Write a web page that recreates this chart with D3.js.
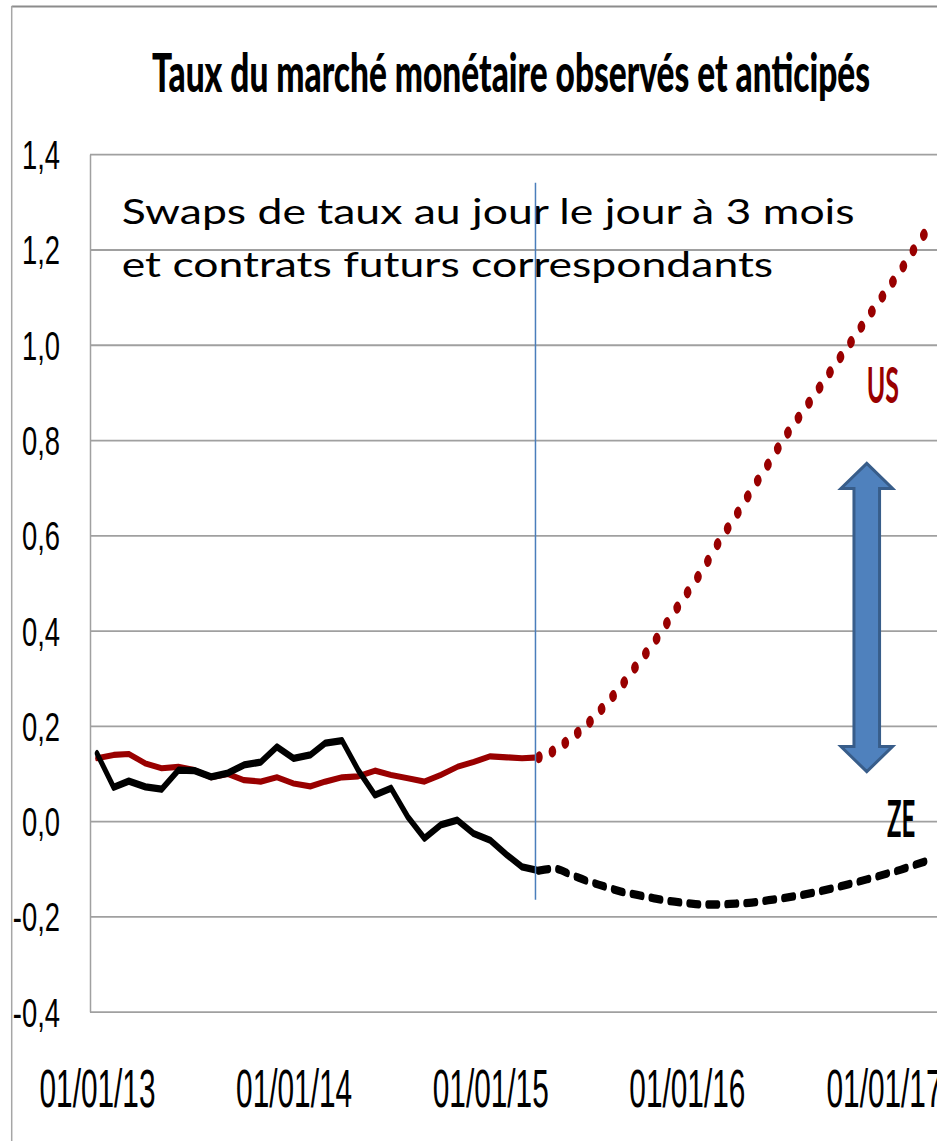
<!DOCTYPE html>
<html><head><meta charset="utf-8">
<script src="https://cdn.jsdelivr.net/npm/d3@7"></script>
<style>
html,body{margin:0;padding:0;background:#fff;}
svg{display:block;font-family:Lato,"Open Sans",sans-serif;}
</style></head>
<body><svg id="chart" width="937" height="1141"></svg>
<script>
// ---------- data ----------
const title = "Taux du marché monétaire observés et anticipés";
const noteLines = ["Swaps de taux au jour le jour à 3 mois", "et contrats futurs correspondants"];
const yTicks = [-0.4, -0.2, 0.0, 0.2, 0.4, 0.6, 0.8, 1.0, 1.2, 1.4];
const xTicks = ["2013-01-01", "2014-01-01", "2015-01-01", "2016-01-01", "2017-01-01"];
const obsStart = "2013-01-01";            // monthly observations Jan 2013 .. Apr 2015
const usObserved = [0.132, 0.139, 0.141, 0.121, 0.111, 0.114, 0.107, 0.092, 0.099, 0.086, 0.083, 0.092,
                    0.079, 0.073, 0.083, 0.092, 0.094, 0.106, 0.097, 0.090, 0.083, 0.097, 0.114, 0.124,
                    0.136, 0.134, 0.132, 0.134];
const zeObserved = [0.142, 0.071, 0.084, 0.072, 0.067, 0.107, 0.106, 0.093, 0.101, 0.118, 0.124, 0.156,
                    0.132, 0.139, 0.164, 0.169, 0.107, 0.055, 0.069, 0.009, -0.036, -0.008, 0.002, -0.026,
                    -0.040, -0.071, -0.096, -0.104];
const fcStart = "2015-04-01";             // monthly expectations Apr 2015 .. Apr 2017
const usForecast = [0.134, 0.149, 0.175, 0.204, 0.242, 0.283, 0.329, 0.375, 0.426, 0.478, 0.531, 0.587,
                    0.641, 0.696, 0.751, 0.806, 0.856, 0.906, 0.956, 1.006, 1.056, 1.106, 1.156, 1.206, 1.256];
const zeForecast = [-0.104, -0.100, -0.113, -0.126, -0.137, -0.148, -0.155, -0.162, -0.168, -0.172, -0.175, -0.175,
                    -0.173, -0.171, -0.166, -0.161, -0.155, -0.148, -0.140, -0.131, -0.122, -0.112, -0.102, -0.091, -0.080];
const cutoffDate = "2015-03-26";
const cutoffSpan = [-0.165, 1.34];
const arrowDate = "2016-11-30";
const arrowSpan = [0.104, 0.751];
const seriesLabels = [
  {name: "US", date: "2016-12-30", value: 0.878, color: "#990000"},
  {name: "ZE", date: "2017-02-02", value: -0.033, color: "#000000"}
];

(function() {
// ---------- layout ----------
const W = 937, H = 1141;
const plotLeft = 90, plotRight = 937, plotTop = 154.2, plotBottom = 1011.7;
const K = 1.66; // vertical stretch of the original picture
const svg = d3.select("#chart");
const parse = d3.utcParse("%Y-%m-%d");

const x = d3.scaleUtc().domain([parse(xTicks[0]), parse(xTicks[xTicks.length - 1])]).range([97, 884]);
const y = d3.scaleLinear().domain([-0.4, 1.4]).range([plotBottom, plotTop]);

const monthly = (start, vals) => vals.map((v, i) => ({d: d3.utcMonth.offset(parse(start), i), v}));

function fit(sel, o) {
  sel.attr("x", 0).attr("y", 0).attr("font-size", o.cap / 0.7165).attr("text-anchor", o.anchor || "start");
  const sx = o.sx || (o.w / sel.node().getComputedTextLength());
  sel.attr("transform", `translate(${o.x},${o.y}) scale(${sx},1)`);
  return sx;
}

// frame
svg.append("line").attr("x1", 11.7).attr("x2", W).attr("y1", 6.5).attr("y2", 6.5)
  .attr("stroke", "#8c8c8c").attr("stroke-width", 2);
svg.append("line").attr("x1", 11.7).attr("x2", 11.7).attr("y1", 6).attr("y2", H)
  .attr("stroke", "#a6a6a6").attr("stroke-width", 1.5);

// title
fit(svg.append("text").text(title).attr("font-weight", 900).attr("fill", "#000"),
  {cap: 38, w: 718, x: 511, y: 91.7, anchor: "middle"});

// y axis with gridlines
const fmt = d3.formatLocale({decimal: ",", thousands: " ", grouping: [3], currency: ["", "€"], minus: "-"}).format(".1f");
const yAxis = svg.append("g").attr("transform", `translate(${plotLeft},0)`)
  .call(d3.axisLeft(y).tickValues(yTicks).tickFormat(fmt).tickSize(-(plotRight - plotLeft)).tickSizeOuter(0));
yAxis.select(".domain").attr("stroke", "#a0a0a0").attr("stroke-width", 1.5);
yAxis.selectAll(".tick line").attr("stroke", "#a0a0a0").attr("stroke-width", 1.8);
const tmp = svg.append("text").text("0,4").attr("font-size", 29 / 0.7165);
const ysx = 38 / tmp.node().getComputedTextLength();
tmp.remove();
yAxis.selectAll(".tick text").each(function() {
  const t = d3.select(this).attr("dy", null).attr("fill", "#000").attr("font-weight", 400);
  fit(t, {cap: 29, sx: ysx, x: 60 - plotLeft, y: 14.5, anchor: "end"});
});

// x axis labels
const xAxis = svg.append("g")
  .call(d3.axisBottom(x).tickValues(xTicks.map(parse)).tickFormat(d3.utcFormat("%d/%m/%y")).tickSize(0));
xAxis.select(".domain").remove();
let xsx = null;
xAxis.selectAll(".tick text").each(function() {
  const t = d3.select(this).attr("dy", null).attr("fill", "#000").attr("font-weight", 500);
  xsx = fit(t, {cap: 38, w: 116, sx: xsx, x: 0, y: 1106.5, anchor: "middle"});
});

// annotation text
let nsx = null;
noteLines.forEach((s, i) => {
  nsx = fit(svg.append("text").text(s).attr("fill", "#000").attr("font-weight", 400),
    {cap: 25.3, w: 733, sx: nsx, x: 121.7, y: 223.5 + i * 53.5, anchor: "start"});
});

// series (drawn in the vertically stretched space of the original)
const lines = svg.append("g").attr("transform", `scale(1,${K})`);
const lineLin = d3.line().x(d => x(d.d)).y(d => y(d.v) / K);
const lineCurve = d3.line().x(d => x(d.d)).y(d => y(d.v) / K).curve(d3.curveMonotoneX);

lines.append("path").datum(monthly(fcStart, zeForecast)).attr("d", lineCurve)
  .attr("fill", "none").attr("stroke", "#000").attr("stroke-width", 5)
  .attr("stroke-linecap", "round").attr("stroke-dasharray", "10,9");
lines.append("path").datum(monthly(fcStart, usForecast)).attr("d", lineCurve)
  .attr("fill", "none").attr("stroke", "#990000").attr("stroke-width", 7)
  .attr("stroke-linecap", "round").attr("stroke-dasharray", "0.5,13.4");
lines.append("path").datum(monthly(obsStart, usObserved)).attr("d", lineLin)
  .attr("fill", "none").attr("stroke", "#990000").attr("stroke-width", 3.7)
  .attr("stroke-linecap", "round").attr("stroke-linejoin", "round");
lines.append("path").datum(monthly(obsStart, zeObserved)).attr("d", lineLin)
  .attr("fill", "none").attr("stroke", "#000").attr("stroke-width", 4.4)
  .attr("stroke-linecap", "round").attr("stroke-linejoin", "round");

// cutoff vertical line
svg.append("line")
  .attr("x1", x(parse(cutoffDate))).attr("x2", x(parse(cutoffDate)))
  .attr("y1", y(cutoffSpan[1])).attr("y2", y(cutoffSpan[0]))
  .attr("stroke", "#4a7ebb").attr("stroke-width", 1.5);

// double arrow
const cx = x(parse(arrowDate)), aTop = y(arrowSpan[1]), aBot = y(arrowSpan[0]);
const hh = 25, hw = 25.8, sw = 12.8;
const ap = d3.path();
ap.moveTo(cx, aTop); ap.lineTo(cx + hw, aTop + hh); ap.lineTo(cx + sw, aTop + hh); ap.lineTo(cx + sw, aBot - hh);
ap.lineTo(cx + hw, aBot - hh); ap.lineTo(cx, aBot); ap.lineTo(cx - hw, aBot - hh); ap.lineTo(cx - sw, aBot - hh);
ap.lineTo(cx - sw, aTop + hh); ap.lineTo(cx - hw, aTop + hh); ap.closePath();
svg.append("path").attr("d", ap.toString()).attr("fill", "#4f81bd")
  .attr("stroke", "#385d8a").attr("stroke-width", 3).attr("stroke-linejoin", "miter");

// series labels
const labelSize = {US: {cap: 35, w: 32.3}, ZE: {cap: 36.7, w: 28.3}};
seriesLabels.forEach(l => {
  fit(svg.append("text").text(l.name).attr("fill", l.color).attr("font-weight", 700),
    {cap: labelSize[l.name].cap, w: labelSize[l.name].w, x: x(parse(l.date)), y: y(l.value), anchor: "middle"});
});
})();
</script>
</body></html>
